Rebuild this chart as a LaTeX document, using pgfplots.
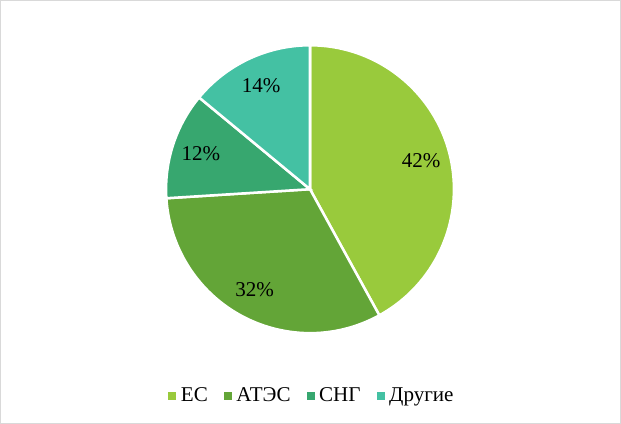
\documentclass[border=0pt]{standalone}
\usepackage{pgfplots}
\pgfplotsset{compat=1.18}
\usepackage{fontspec}
\setmainfont{Liberation Serif}
\newfontfamily\tnr{Liberation Serif}

\definecolor{cES}{HTML}{99CA3C}
\definecolor{cAT}{HTML}{63A537}
\definecolor{cSNG}{HTML}{37A76F}
\definecolor{cDr}{HTML}{44C1A3}
\definecolor{frame}{HTML}{D9D9D9}
\newcommand\lblfont{\tnr\fontsize{21}{24}\selectfont}

\begin{document}
\begin{tikzpicture}
\begin{axis}[
  scale only axis, width=621bp, height=425bp,
  xmin=0, xmax=621, ymin=0, ymax=425,
  hide axis, clip=false,
  legend columns=4,
  legend style={at={(axis cs:312,30)}, anchor=center, draw=none, fill=none,
    font=\lblfont, inner sep=0pt,
    nodes={inner sep=2bp},
    /tikz/every odd column/.append style={column sep=3bp},
    /tikz/every even column/.append style={column sep=14bp}},
  legend image code/.code={\fill[#1] (0bp,-3.5bp) rectangle (7bp,3.5bp);},
]
\draw[frame, line width=1bp] (axis cs:2.5,2.5) rectangle (axis cs:618.5,422.5);

% pie: shares in percent, clockwise from the top
\def\cum{0}
\pgfplotsforeachungrouped \v/\c in {42/cES, 32/cAT, 12/cSNG, 14/cDr}{
  \pgfmathsetmacro\sa{90-3.6*\cum}
  \pgfmathsetmacro\ea{\sa-3.6*\v}
  \pgfmathsetmacro\ma{(\sa+\ea)/2}
  \pgfmathsetmacro\cum{\cum+\v}
  \edef\slice{%
    \noexpand\fill[\c, draw=white, line width=2.5bp] (axis cs:310,235) -- ++(\sa:143bp)
      arc[start angle=\sa, end angle=\ea, radius=143bp] -- cycle;
    \noexpand\path (axis cs:310,235) ++(\ma:114bp)
      node[font=\noexpand\lblfont, inner sep=0pt] {\v\noexpand\%};}
  \slice
}

\addlegendimage{cES}
\addlegendimage{cAT}
\addlegendimage{cSNG}
\addlegendimage{cDr}
\legend{ЕС, АТЭС, СНГ, Другие}
\end{axis}
\end{tikzpicture}
\end{document}
